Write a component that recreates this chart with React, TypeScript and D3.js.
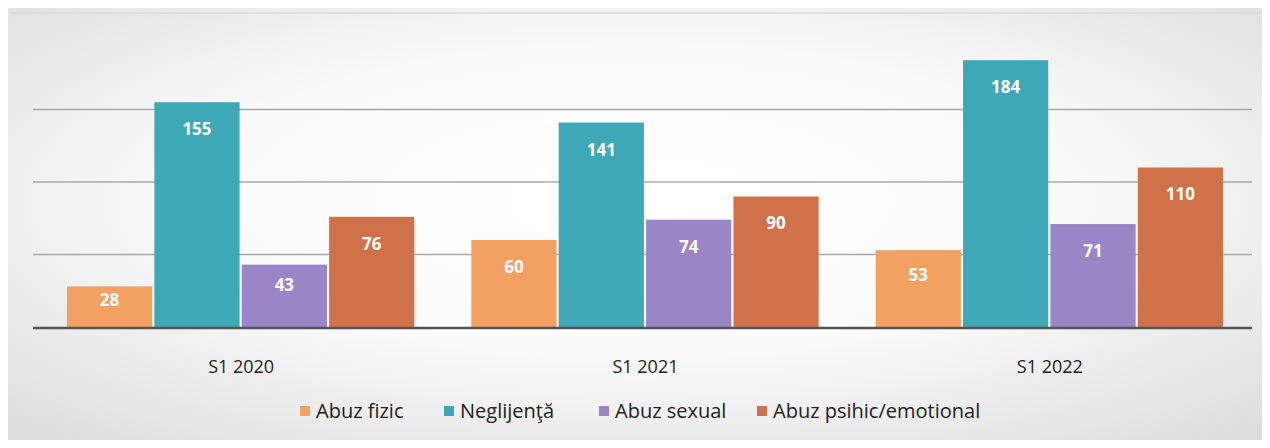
import React, { useEffect, useRef } from "react";
import * as d3 from "d3";

const periods = ["S1 2020", "S1 2021", "S1 2022"];
const seriesNames = ["Abuz fizic", "Neglijenţă", "Abuz sexual", "Abuz psihic/emotional"];
const seriesColors = ["#F2A162", "#3FA8B6", "#9A85C6", "#CF724A"];
const abuzFizic = [28, 60, 53];
const neglijenta = [155, 141, 184];
const abuzSexual = [43, 74, 71];
const abuzPsihic = [76, 90, 110];
const gridTicks = [50, 100, 150];

const W = 1270;
const H = 448;

const App = () => {
  const svgRef = useRef(null);

  useEffect(() => {
    const svg = d3.select(svgRef.current);
    svg.selectAll("*").remove();

    const font = "Open Sans, Liberation Sans, sans-serif";
    const values = [abuzFizic, neglijenta, abuzSexual, abuzPsihic];

    // paper-ish background
    const defs = svg.append("defs");
    const grad = defs
      .append("radialGradient")
      .attr("id", "bg")
      .attr("cx", "50%")
      .attr("cy", "45%")
      .attr("r", "70%");
    grad.append("stop").attr("offset", "0%").attr("stop-color", "#ffffff");
    grad.append("stop").attr("offset", "50%").attr("stop-color", "#fafafa");
    grad.append("stop").attr("offset", "100%").attr("stop-color", "#dedede");
    svg.append("rect").attr("width", W).attr("height", H).attr("fill", "url(#bg)");

    svg
      .append("line")
      .attr("x1", 10)
      .attr("x2", W)
      .attr("y1", 13)
      .attr("y2", 13)
      .attr("stroke", "#d8d8d8")
      .attr("stroke-width", 1.5);

    const x0 = d3.scaleBand().domain(periods).range([39, 1252]).paddingInner(0);
    const x1 = d3
      .scaleBand()
      .domain(seriesNames)
      .range([28, x0.bandwidth() - 29])
      .paddingInner(0.025);
    const y = d3.scaleLinear().domain([0, 200]).range([327, 37]);

    svg
      .append("g")
      .selectAll("line")
      .data(gridTicks)
      .enter()
      .append("line")
      .attr("x1", 33)
      .attr("x2", 1252)
      .attr("y1", (d) => y(d))
      .attr("y2", (d) => y(d))
      .attr("stroke", "#a8a8a8")
      .attr("stroke-width", 1.5);

    const groups = svg
      .append("g")
      .selectAll("g")
      .data(periods)
      .enter()
      .append("g")
      .attr("transform", (p) => `translate(${x0(p)},0)`);

    groups.each(function (p, gi) {
      const g = d3.select(this);
      seriesNames.forEach((s, si) => {
        const v = values[si][gi];
        const bx = x1(s);
        const top = y(v);
        const h = y(0) - top;
        g.append("rect")
          .attr("x", bx)
          .attr("y", top)
          .attr("width", x1.bandwidth())
          .attr("height", h)
          .attr("fill", seriesColors[si]);
        g.append("text")
          .attr("x", bx + x1.bandwidth() / 2)
          .attr("y", top + Math.min(27, h * 0.33))
          .attr("dy", "0.35em")
          .attr("text-anchor", "middle")
          .attr("fill", "#ffffff")
          .style("font-family", font)
          .style("font-weight", "bold")
          .style("font-size", "17px")
          .text(v);
      });
    });

    svg
      .append("line")
      .attr("x1", 33)
      .attr("x2", 1252)
      .attr("y1", y(0) + 1)
      .attr("y2", y(0) + 1)
      .attr("stroke", "#555555")
      .attr("stroke-width", 2.5);

    svg
      .append("g")
      .selectAll("text")
      .data(periods)
      .enter()
      .append("text")
      .attr("x", (p) => x0(p) + x0.bandwidth() / 2)
      .attr("y", 367)
      .attr("dy", "0.35em")
      .attr("text-anchor", "middle")
      .attr("fill", "#222")
      .style("font-family", font)
      .style("font-size", "18px")
      .text((p) => p);

    // legend
    const legendX = [300, 444, 599, 757];
    const legend = svg
      .append("g")
      .selectAll("g")
      .data(seriesNames)
      .enter()
      .append("g")
      .attr("transform", (d, i) => `translate(${legendX[i]},411)`);
    legend
      .append("rect")
      .attr("x", 0)
      .attr("y", -5)
      .attr("width", 10)
      .attr("height", 10)
      .attr("fill", (d, i) => seriesColors[i]);
    legend
      .append("text")
      .attr("x", 16)
      .attr("dy", "0.35em")
      .attr("fill", "#222")
      .style("font-family", font)
      .style("font-size", "20px")
      .text((d) => d);
  }, []);

  return (
    <div style={{ margin: -8 }}>
      <svg ref={svgRef} width={W} height={H} style={{ display: "block" }}></svg>
    </div>
  );
};

export default App;
